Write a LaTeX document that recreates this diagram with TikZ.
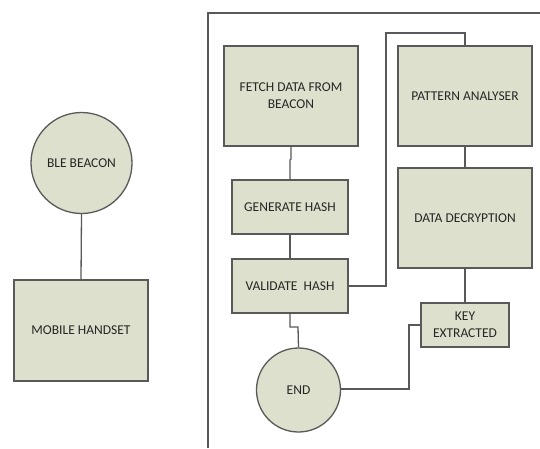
\documentclass[tikz,border=0pt]{standalone}
\usepackage{fontspec}
\setmainfont{Carlito}
\definecolor{boxfill}{HTML}{DDE0CC}
\definecolor{edge}{HTML}{595959}
\definecolor{txt}{HTML}{262626}
\begin{document}
\begin{tikzpicture}[x=1pt,y=-1pt,
  box/.style={draw=edge,fill=boxfill,line width=1.3pt,inner sep=0pt,align=center,text=txt,font=\fontsize{13.5}{17}\selectfont},
  conn/.style={draw=edge,line width=1.3pt},
]
\useasboundingbox[fill=white] (0,0) rectangle (540,448);
% frame
\draw[conn] (208,448) -- (208,13) -- (541,13);
% left side
\node[box,circle,minimum size=101pt] (ble) at (81.5,163) {BLE BEACON};
\node[box,minimum width=134pt,minimum height=101pt] (mob) at (81,330.5) {MOBILE HANDSET};
\draw[conn] (ble.south) -- (mob.north);
% right side
\node[box,minimum width=134pt,minimum height=100pt] (fetch) at (291,96) {FETCH DATA FROM\\BEACON};
\node[box,minimum width=116pt,minimum height=54pt] (gen) at (290,207) {GENERATE HASH};
\node[box,minimum width=116pt,minimum height=54pt] (val) at (290,286) {VALIDATE\ \ HASH};
\node[box,minimum width=134pt,minimum height=100pt] (pat) at (465,96) {PATTERN ANALYSER};
\node[box,minimum width=134pt,minimum height=100pt] (dec) at (465,218) {DATA DECRYPTION};
\node[box,minimum width=88pt,minimum height=44pt] (key) at (465,325) {KEY\\EXTRACTED};
\node[box,circle,minimum size=84pt] (end) at (298.5,390) {END};
\coordinate (j1) at (291,159);
\coordinate (j2) at (290,160);
\draw[conn] (fetch.south) -- (j1) -- (j2) -- (gen.north);
\draw[conn] (gen.south) -- (val.north);
\draw[conn] (val.east) -| (386,33) -| (pat.north);
\draw[conn] (pat.south) -- (dec.north);
\draw[conn] (dec.south) -- (key.north);
\draw[conn] (key.west) -| (409,389) -- (end.east |- 0,389);
\draw[conn] (val.south) |- (298,327) -- (end.north);
\end{tikzpicture}
\end{document}
